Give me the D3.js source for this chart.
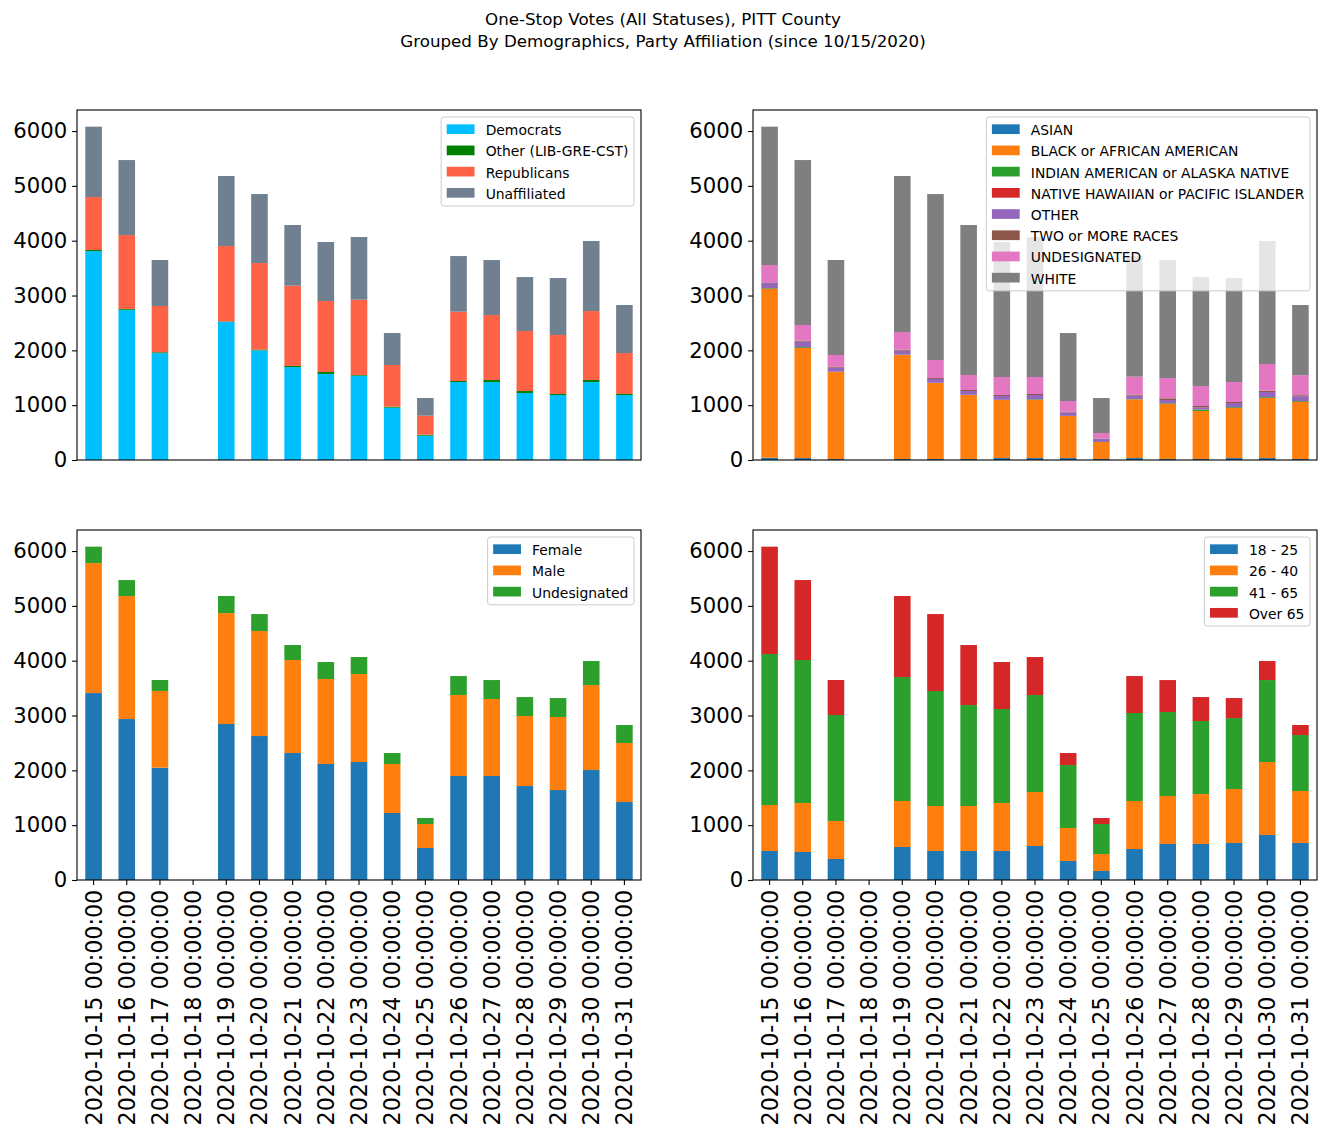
<!DOCTYPE html>
<html>
<head>
<meta charset="utf-8">
<script src="https://cdnjs.cloudflare.com/ajax/libs/d3/7.8.5/d3.min.js"></script>
<style>
  html, body { margin: 0; padding: 0; background: #ffffff; }
  svg { display: block; font-family: "DejaVu Sans", sans-serif; }
</style>
</head>
<body>
<svg id="chart" width="1326" height="1137"></svg>
<script>
// ---------- DATA ----------
const dates = [
  "2020-10-15 00:00:00", "2020-10-16 00:00:00", "2020-10-17 00:00:00", "2020-10-18 00:00:00",
  "2020-10-19 00:00:00", "2020-10-20 00:00:00", "2020-10-21 00:00:00", "2020-10-22 00:00:00",
  "2020-10-23 00:00:00", "2020-10-24 00:00:00", "2020-10-25 00:00:00", "2020-10-26 00:00:00",
  "2020-10-27 00:00:00", "2020-10-28 00:00:00", "2020-10-29 00:00:00", "2020-10-30 00:00:00",
  "2020-10-31 00:00:00"
];
const yTicks = [0, 1000, 2000, 3000, 4000, 5000, 6000];

// Party affiliation
const partyKeys = ["Democrats", "Other (LIB-GRE-CST)", "Republicans", "Unaffiliated"];
const democrats    = [3810, 2740, 1950, 0, 2520, 2000, 1695, 1570, 1538, 955, 444, 1422, 1422, 1222, 1185, 1422, 1185];
const otherParty   = [20, 15, 15, 0, 8, 15, 20, 35, 12, 18, 18, 19, 37, 36, 19, 37, 19];
const republicans  = [966, 1348, 844, 0, 1375, 1578, 1464, 1295, 1374, 760, 346, 1264, 1185, 1095, 1076, 1258, 747];
const unaffiliated = [1284, 1368, 839, 0, 1277, 1258, 1107, 1076, 1143, 583, 323, 1015, 1003, 984, 1039, 1277, 876];
const partyColors = ["#00bfff", "#008000", "#ff6347", "#708090"];

// Race
const raceKeys = ["ASIAN", "BLACK or AFRICAN AMERICAN", "INDIAN AMERICAN or ALASKA NATIVE",
  "NATIVE HAWAIIAN or PACIFIC ISLANDER", "OTHER", "TWO or MORE RACES", "UNDESIGNATED", "WHITE"];
const asian       = [40, 36, 18, 0, 18, 18, 18, 36, 36, 36, 18, 36, 18, 18, 36, 36, 18];
const black       = [3079, 2007, 1587, 0, 1897, 1386, 1167, 1058, 1058, 766, 310, 1070, 1003, 876, 912, 1095, 1040];
const indianAm    = [12, 15, 5, 0, 5, 3, 3, 3, 12, 2, 1, 6, 12, 25, 15, 15, 15];
const hawaiian    = [3, 2, 2, 0, 2, 2, 1, 1, 1, 1, 0, 1, 1, 2, 2, 2, 3];
const otherRace   = [94, 98, 72, 0, 72, 68, 69, 69, 78, 64, 54, 60, 60, 39, 75, 92, 88];
const twoOrMore   = [10, 18, 15, 0, 18, 18, 19, 18, 19, 12, 6, 19, 31, 25, 18, 24, 18];
const undesRace   = [318, 286, 216, 0, 322, 329, 273, 329, 310, 195, 103, 328, 370, 365, 364, 487, 365];
const white       = [2524, 3009, 1733, 0, 2846, 3027, 2736, 2462, 2553, 1240, 639, 2200, 2152, 1987, 1897, 2243, 1280];
const raceColors = ["#1f77b4", "#ff7f0e", "#2ca02c", "#d62728", "#9467bd", "#8c564b", "#e377c2", "#7f7f7f"];

// Gender
const genderKeys = ["Female", "Male", "Undesignated"];
const female      = [3410, 2936, 2049, 0, 2845, 2626, 2316, 2116, 2152, 1222, 584, 1897, 1897, 1714, 1641, 2006, 1422];
const male        = [2371, 2243, 1398, 0, 2024, 1915, 1696, 1550, 1605, 894, 437, 1477, 1404, 1277, 1332, 1550, 1076];
const undesGender = [299, 292, 201, 0, 311, 310, 274, 310, 310, 200, 110, 346, 346, 346, 346, 438, 329];
const genderColors = ["#1f77b4", "#ff7f0e", "#2ca02c"];

// Age
const ageKeys = ["18 - 25", "26 - 40", "41 - 65", "Over 65"];
const age18to25 = [529, 511, 383, 0, 602, 529, 529, 529, 620, 347, 164, 565, 657, 657, 675, 821, 675];
const age26to40 = [839, 893, 693, 0, 839, 821, 821, 875, 985, 601, 310, 876, 875, 911, 985, 1331, 948];
const age41to65 = [2754, 2608, 1933, 0, 2261, 2097, 1841, 1715, 1769, 1149, 547, 1605, 1532, 1332, 1294, 1495, 1021];
const ageOver65 = [1958, 1459, 639, 0, 1478, 1404, 1095, 857, 693, 219, 110, 674, 583, 437, 365, 347, 183];
const ageColors = ["#1f77b4", "#ff7f0e", "#2ca02c", "#d62728"];

const titleLines = ["One-Stop Votes (All Statuses), PITT County",
                    "Grouped By Demographics, Party Affiliation (since 10/15/2020)"];

// ---------- DRAW ----------
const svg = d3.select("#chart");
svg.append("rect").attr("width", 1326).attr("height", 1137).attr("fill", "#fff");

svg.selectAll("text.title").data(titleLines).join("text")
  .attr("class", "title")
  .attr("x", 663).attr("y", (d, i) => 25 + i * 21.5)
  .attr("text-anchor", "middle")
  .attr("font-size", "16.7px")
  .attr("fill", "#000")
  .text(d => d);

function buildRows(keys, arrays) {
  return dates.map((d, i) => {
    const r = { date: d };
    keys.forEach((k, j) => { r[k] = arrays[j][i]; });
    return r;
  });
}

function drawPanel(opt) {
  const { x0, y0, w, h, keys, arrays, colors, showX } = opt;
  const g = svg.append("g").attr("transform", `translate(${x0},${y0})`);
  const rows = buildRows(keys, arrays);
  const stack = d3.stack().keys(keys)(rows);
  const maxTotal = d3.max(stack[stack.length - 1], d => d[1]);

  const x = d3.scaleBand().domain(dates).range([0, w]).paddingInner(0.5).paddingOuter(0.25);
  const y = d3.scaleLinear().domain([0, maxTotal * 1.05]).range([h, 0]);

  g.selectAll("g.layer").data(stack).join("g")
    .attr("class", "layer")
    .attr("fill", (d, i) => colors[i])
    .selectAll("rect").data(d => d).join("rect")
    .attr("x", d => x(d.data.date))
    .attr("width", x.bandwidth())
    .attr("y", d => y(d[1]))
    .attr("height", d => Math.max(0, y(d[0]) - y(d[1])));

  // y axis
  const yAxis = d3.axisLeft(y).tickValues(yTicks).tickSize(4.9).tickPadding(4.9).tickFormat(d3.format("d"));
  const ya = g.append("g").call(yAxis);
  ya.select(".domain").remove();
  ya.selectAll("line").attr("stroke", "#000").attr("stroke-width", 1.1);
  ya.selectAll("text").attr("font-size", "21.2px").attr("fill", "#000")
    .attr("font-family", "DejaVu Sans, sans-serif");

  if (showX) {
    const xAxis = d3.axisBottom(x).tickSize(4.9).tickPadding(4.9);
    const xa = g.append("g").attr("transform", `translate(0,${h})`).call(xAxis);
    xa.select(".domain").remove();
    xa.selectAll("line").attr("stroke", "#000").attr("stroke-width", 1.1);
    xa.selectAll("text")
      .attr("font-size", "22.2px").attr("fill", "#000")
      .attr("font-family", "DejaVu Sans, sans-serif")
      .attr("text-anchor", "end")
      .attr("dy", null)
      .attr("y", 0).attr("x", 0)
      .attr("dominant-baseline", "central")
      .attr("transform", "translate(0,9.8) rotate(-90)");
  }

  // frame
  g.append("rect").attr("x", 0).attr("y", 0).attr("width", w).attr("height", h)
    .attr("fill", "none").attr("stroke", "#000").attr("stroke-width", 1.1);

  // legend
  const fs = 13.9, pad = 5.56, handleW = 27.8, handleH = 9.7, gap = 11.12, rowH = 14.26, spacing = 6.95;
  const lg = g.append("g");
  const box = lg.append("rect");
  const items = lg.selectAll("g.item").data(keys).join("g").attr("class", "item");
  const texts = items.append("text")
    .attr("font-size", fs + "px").attr("fill", "#000")
    .attr("dominant-baseline", "central")
    .text(d => d);
  let maxW = 0;
  texts.each(function () { maxW = Math.max(maxW, this.getComputedTextLength()); });
  const boxW = pad * 2 + handleW + gap + maxW;
  const boxH = pad * 2 + keys.length * rowH + (keys.length - 1) * spacing;
  const bx = w - 7 - boxW, by = 7;
  box.attr("x", bx).attr("y", by).attr("width", boxW).attr("height", boxH)
    .attr("rx", 2.8).attr("fill", "#fff").attr("fill-opacity", 0.8)
    .attr("stroke", "#cccccc").attr("stroke-width", 1);
  items.attr("transform", (d, i) => `translate(${bx + pad},${by + pad + rowH / 2 + i * (rowH + spacing)})`);
  items.insert("rect", "text")
    .attr("x", 0).attr("y", -handleH / 2 - 0.5).attr("width", handleW).attr("height", handleH)
    .attr("fill", (d, i) => colors[i]);
  texts.attr("x", handleW + gap).attr("y", 0.5);
}

const L = 77, R = 753, W = 564, T = 110, B = 530, H = 350;
drawPanel({ x0: L, y0: T, w: W, h: H, keys: partyKeys,
  arrays: [democrats, otherParty, republicans, unaffiliated], colors: partyColors, showX: false });
drawPanel({ x0: R, y0: T, w: W, h: H, keys: raceKeys,
  arrays: [asian, black, indianAm, hawaiian, otherRace, twoOrMore, undesRace, white], colors: raceColors, showX: false });
drawPanel({ x0: L, y0: B, w: W, h: H, keys: genderKeys,
  arrays: [female, male, undesGender], colors: genderColors, showX: true });
drawPanel({ x0: R, y0: B, w: W, h: H, keys: ageKeys,
  arrays: [age18to25, age26to40, age41to65, ageOver65], colors: ageColors, showX: true });
</script>
</body>
</html>
